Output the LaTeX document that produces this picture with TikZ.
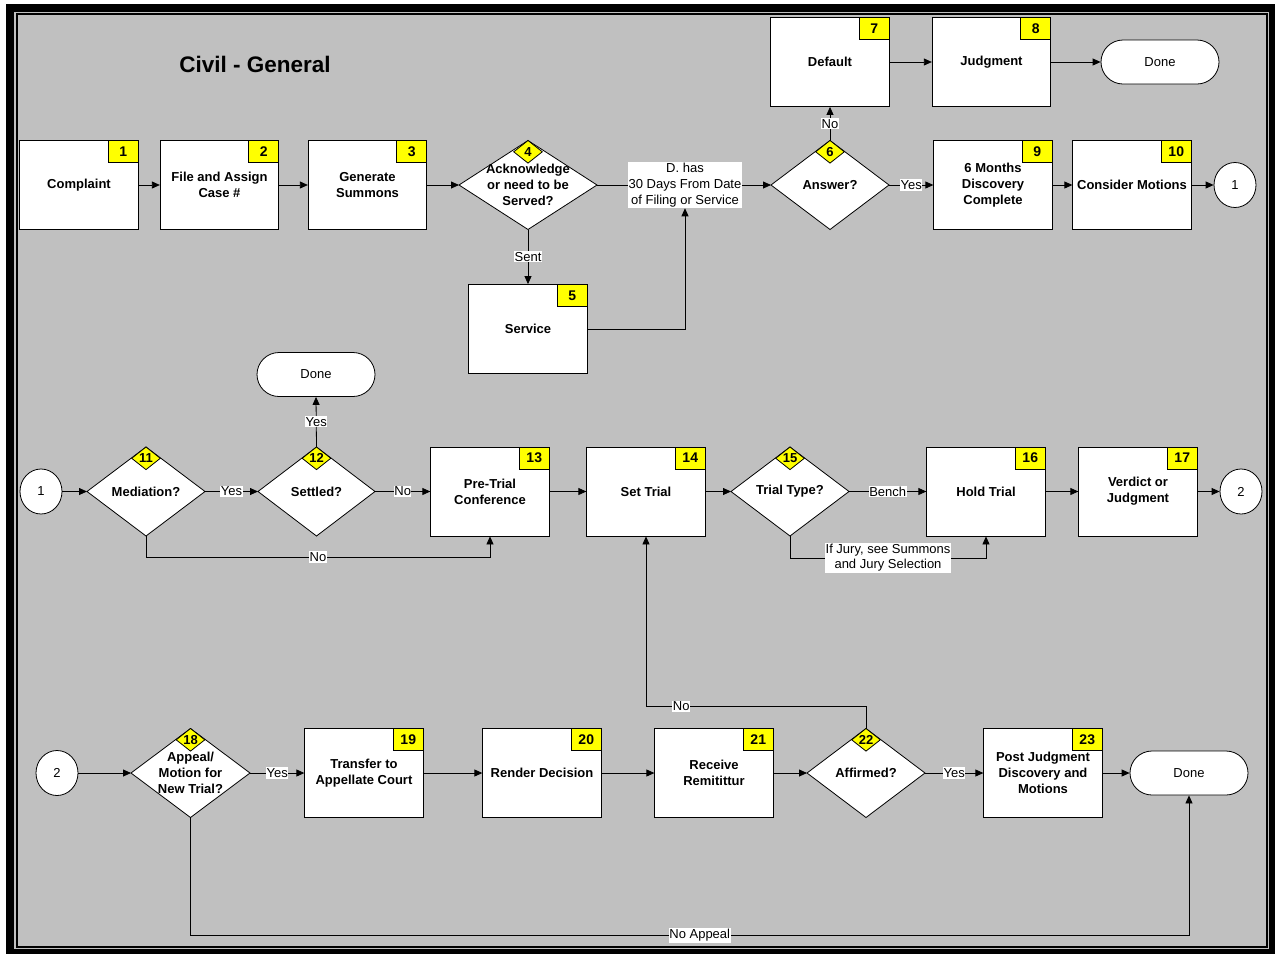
\documentclass[tikz,border=0pt]{standalone}
\usepackage{fontspec}
\setmainfont{Liberation Sans}
\usetikzlibrary{arrows.meta,shapes.geometric,calc}
\definecolor{bg}{HTML}{C0C0C0}
\definecolor{tagy}{HTML}{FFFF00}
\tikzset{
 pbox/.style={draw=black, line width=0.8pt, fill=white, minimum width=118.5pt, minimum height=89pt, inner sep=0pt, align=center, font=\bfseries\fontsize{13}{16}\selectfont},
 ptag/.style={draw=black, line width=0.8pt, fill=tagy, minimum width=30pt, minimum height=22pt, inner sep=0pt, font=\bfseries\fontsize{14}{14}\selectfont, anchor=north east},
 dshape/.style={minimum height=89pt, inner sep=0pt, outer sep=0pt},
 dline/.style={draw=black, line width=0.8pt, fill=white},
 dtext/.style={align=center, font=\bfseries\fontsize{13}{16}\selectfont, inner sep=0pt},
 dtag/.style={draw=black, line width=0.8pt, fill=tagy},
 dnum/.style={font=\bfseries\fontsize{13}{13}\selectfont, inner sep=0pt},
 term/.style={draw=black, line width=0.8pt, fill=white, rounded corners=22pt, minimum width=118pt, minimum height=44pt, inner sep=0pt, font=\fontsize{13}{16}\selectfont},
 conn/.style={ellipse, draw=black, line width=0.8pt, fill=white, minimum width=42pt, minimum height=45pt, inner sep=0pt, font=\fontsize{13}{16}\selectfont},
 arr/.style={draw=black, line width=0.8pt, -{Triangle[length=8pt,width=7pt]}},
 ln/.style={draw=black, line width=0.8pt},
 lab/.style={fill=white, inner xsep=0.5pt, inner ysep=1pt, align=center, font=\fontsize{13}{15}\selectfont},
}
\newcommand\pbx[5]{\node[pbox] (#1) at (#2,#3) {#4}; \node[ptag] (#1n) at (#1.north east) {#5};}
\newcommand\dec[6]{%
 \node[dshape, minimum width=#4pt] (#1) at (#2,#3) {};
 \path[dline] (#1.north) -- (#1.east) -- (#1.south) -- (#1.west) -- cycle;
 \node[dtext] (#1x) at (#1) {#5};
 \path[dtag] (#1.north) -- ++(14.3,11.3) -- ++(-14.3,11.3) -- ++(-14.3,-11.3) -- cycle;
 \node[dnum] (#1n) at ($(#1.north)+(0,11.3)$) {#6};
}
\begin{document}
\begin{tikzpicture}[x=1pt,y=-1pt]
% frame
\fill[white] (0,0) rectangle (1275,954);
\fill[black] (6,4) rectangle (1275,954);
\fill[bg] (14,12) rectangle (1269.3,949.3);
\draw[line width=2pt, fill=bg] (16.7,14.3) rectangle (1266.7,946.5);
\useasboundingbox (0,0) rectangle (1275,954);
% title
\node[font=\bfseries\fontsize{22.5}{26}\selectfont] (title) at (255,64) {Civil - General};
% row 1
\pbx{n1}{79}{185}{Complaint}{1}
\pbx{n2}{219.5}{185}{File and Assign\\Case \#}{2}
\pbx{n3}{367.5}{185}{Generate\\Summons}{3}
\dec{d4}{528}{185}{138}{Acknowledge\\or need to be\\Served?}{4}
\pbx{n5}{528}{329}{Service}{5}
\node[lab, font=\fontsize{13}{16}\selectfont] (dl) at (685,185) {D. has\\30 Days From Date\\of Filing or Service};
\dec{d6}{830}{185}{118}{Answer?}{6}
\pbx{n7}{830}{62}{Default}{7}
\pbx{n8}{991.5}{62}{Judgment}{8}
\node[term] (done1) at (1160,62) {Done};
\pbx{n9}{993}{185}{6 Months\\Discovery\\Complete}{9}
\pbx{n10}{1132}{185}{Consider Motions}{10}
\node[conn] (c1a) at (1235,185) {1};
% row 2
\node[conn] (c1b) at (41,491.5) {1};
\dec{d11}{146}{491.5}{118}{Mediation?}{11}
\dec{d12}{316.5}{491.5}{117}{Settled?}{12}
\node[term] (done2) at (316,374.5) {Done};
\pbx{n13}{490}{491.5}{Pre-Trial\\Conference}{13}
\pbx{n14}{646}{491.5}{Set Trial}{14}
\dec{d15}{790}{491.5}{118}{Trial Type?}{15}
\pbx{n16}{986}{491.5}{Hold Trial}{16}
\pbx{n17}{1138}{491.5}{Verdict or\\Judgment}{17}
\node[conn] (c2a) at (1241,491.5) {2};
% row 3
\node[conn] (c2b) at (57,773) {2};
\dec{d18}{190.5}{773}{119}{Appeal/\\Motion for\\New Trial?}{18}
\pbx{n19}{364}{773}{Transfer to\\Appellate Court}{19}
\pbx{n20}{542}{773}{Render Decision}{20}
\pbx{n21}{714}{773}{Receive\\Remitittur}{21}
\dec{d22}{866}{773}{118}{Affirmed?}{22}
\pbx{n23}{1043}{773}{Post Judgment\\Discovery and\\Motions}{23}
\node[term] (done3) at (1189,773) {Done};
% connectors row 1
\draw[arr] (n1) -- (n2);
\draw[arr] (n2) -- (n3);
\draw[arr] (n3) -- (d4.west);
\draw[ln] (d4.east) -- (dl.west);
\draw[arr] (dl.east) -- (d6.west);
\draw[arr] (d4.south) -- node[lab] {Sent} (n5.north);
\draw[arr] (n5.east) -| (dl.south);
\draw[arr] (d6.north) -- node[lab] {No} (n7.south);
\draw[arr] (d6.east) -- node[lab] {Yes} (n9.west);
\draw[arr] (n7) -- (n8);
\draw[arr] (n8) -- (done1);
\draw[arr] (n9) -- (n10);
\draw[arr] (n10) -- (c1a);
% connectors row 2
\draw[arr] (c1b) -- (d11.west);
\draw[arr] (d11.east) -- node[lab] {Yes} (d12.west);
\draw[arr] (d12.north) -- node[lab] {Yes} (done2.south);
\draw[arr] (d12.east) -- node[lab] {No} (n13.west);
\draw[arr] (d11.south) -- ++(0,21) -| node[lab, pos=0.25] {No} (n13.south);
\draw[arr] (n13) -- (n14);
\draw[arr] (n14) -- (d15.west);
\draw[arr] (d15.east) -- node[lab] {Bench} (n16.west);
\draw[arr] (d15.south) -- ++(0,22) -| node[lab, pos=0.25] {If Jury, see Summons\\and Jury Selection} (n16.south);
\draw[arr] (n16) -- (n17);
\draw[arr] (n17) -- (c2a);
% connectors row 3
\draw[arr] (c2b) -- (d18.west);
\draw[arr] (d18.east) -- node[lab] {Yes} (n19.west);
\draw[arr] (n19) -- (n20);
\draw[arr] (n20) -- (n21);
\draw[arr] (n21) -- (d22.west);
\draw[arr] (d22.east) -- node[lab] {Yes} (n23.west);
\draw[arr] (n23) -- (done3);
\draw[arr] (d22.north) -- ++(0,-22) -| node[lab, pos=0.42] {No} (n14.south);
\draw[arr] (d18.south) -- ++(0,118) -| node[lab, pos=0.255] {No Appeal} (done3.south);
\end{tikzpicture}
\end{document}
